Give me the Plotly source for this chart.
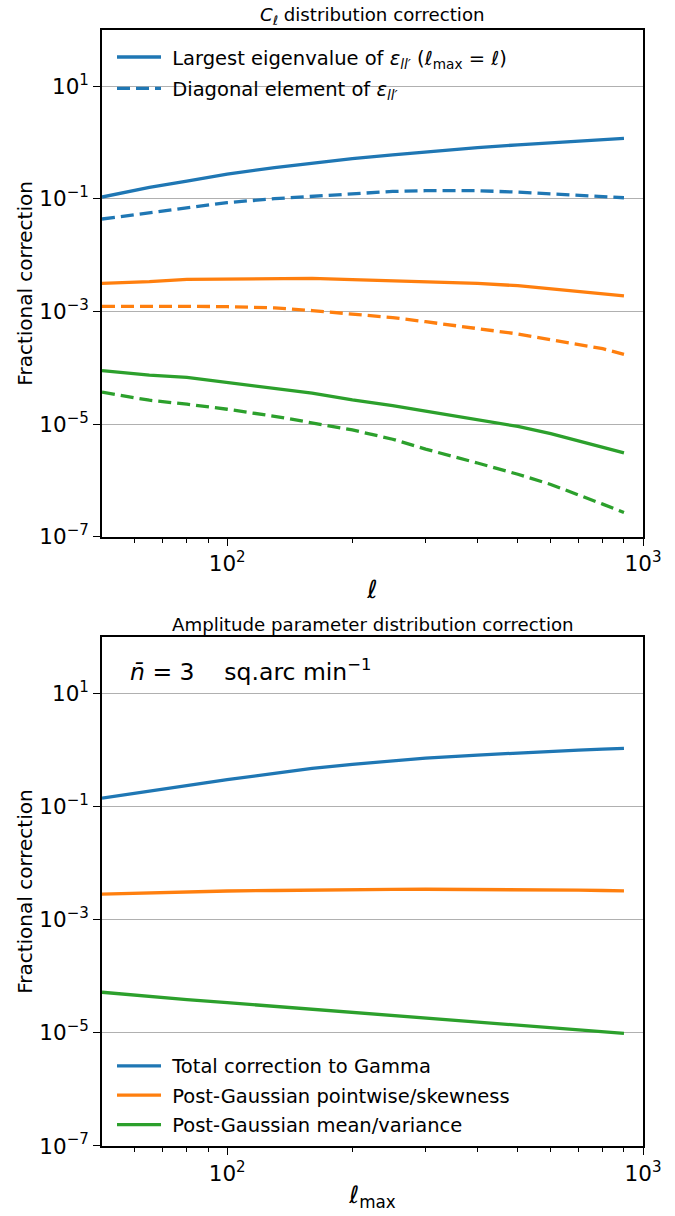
import plotly.graph_objects as go

# multipole sampling shared by every curve
ell = [50, 65, 80, 100, 130, 160, 200, 250, 300, 400, 500, 600, 700, 800, 900]

# C_ell distribution correction
cl_eig_total = [0.108, 0.16, 0.208, 0.277, 0.36, 0.437, 0.521, 0.608, 0.685, 0.813, 0.914, 0.997, 1.07, 1.13, 1.186]
cl_diag_total = [0.044, 0.057, 0.069, 0.086, 0.101, 0.112, 0.125, 0.136, 0.14, 0.14, 0.132, 0.124, 0.116, 0.111, 0.105]
cl_eig_skew = [0.00316, 0.00339, 0.00372, 0.0038, 0.00389, 0.00389, 0.0037, 0.00355, 0.00339, 0.00316, 0.00288, 0.00251, 0.00224, 0.00206, 0.0019]
cl_diag_skew = [0.00124, 0.00126, 0.00124, 0.00122, 0.00116, 0.00104, 0.00089, 0.00078, 0.00066, 0.0005, 0.0004, 0.000316, 0.000263, 0.000219, 0.000174]
cl_eig_meanvar = [8.9e-5, 7.4e-5, 6.8e-5, 5.5e-5, 4.3e-5, 3.55e-5, 2.7e-5, 2.14e-5, 1.7e-5, 1.2e-5, 9.1e-6, 6.8e-6, 5.1e-6, 3.9e-6, 3.1e-6]
cl_diag_meanvar = [3.7e-5, 2.66e-5, 2.26e-5, 1.84e-5, 1.38e-5, 1.07e-5, 7.9e-6, 5.4e-6, 3.6e-6, 2.04e-6, 1.29e-6, 8.5e-7, 5.6e-7, 3.8e-7, 2.7e-7]

# amplitude parameter distribution correction
amp_total = [0.142, 0.19, 0.239, 0.303, 0.39, 0.477, 0.565, 0.656, 0.729, 0.824, 0.90, 0.957, 1.005, 1.045, 1.079]
amp_skew = [0.00286, 0.003, 0.00316, 0.00324, 0.00331, 0.00339, 0.00343, 0.00347, 0.00348, 0.00347, 0.00343, 0.00339, 0.00335, 0.00331, 0.00327]
amp_meanvar = [5.25e-5, 4.37e-5, 3.9e-5, 3.43e-5, 2.95e-5, 2.63e-5, 2.29e-5, 2.0e-5, 1.8e-5, 1.51e-5, 1.33e-5, 1.2e-5, 1.11e-5, 1.04e-5, 9.8e-6]

# axis tick labels
y_tickvals = [1e-7, 1e-5, 1e-3, 1e-1, 1e1]
y_ticktext = ["10<sup>\u22127</sup>", "10<sup>\u22125</sup>", "10<sup>\u22123</sup>",
              "10<sup>\u22121</sup>", "10<sup>1</sup>"]
x_tickvals = [100, 1000]
x_ticktext = ["10<sup>2</sup>", "10<sup>3</sup>"]
x_minor = [60, 70, 80, 90, 200, 300, 400, 500, 600, 700, 800, 900]

BLUE, ORANGE, GREEN = "#1f77b4", "#ff7f0e", "#2ca02c"
FONT = "DejaVu Sans"
LW = 3.3
DASH = "13px,6px"
SP = "\u00a0"

fig = go.Figure()

eps = "<i>\u03b5</i><sub><i>ll\u2032</i></sub>"
top_series = [
    (cl_eig_total, BLUE, "solid", f"{SP}Largest eigenvalue of {eps} (<i>\u2113</i><sub>max</sub> = <i>\u2113</i>)", True),
    (cl_diag_total, BLUE, DASH, f"{SP}Diagonal element of {eps}", True),
    (cl_eig_skew, ORANGE, "solid", "", False),
    (cl_diag_skew, ORANGE, DASH, "", False),
    (cl_eig_meanvar, GREEN, "solid", "", False),
    (cl_diag_meanvar, GREEN, DASH, "", False),
]
for i, (vals, col, dash, name, show) in enumerate(top_series):
    fig.add_trace(go.Scatter(
        x=ell, y=vals, mode="lines", name=name, showlegend=show,
        legend="legend", legendgroup=f"top{i}",
        line=dict(color=col, width=LW, dash=dash),
        xaxis="x", yaxis="y"))

bottom_series = [
    (amp_total, BLUE, "Total correction to Gamma"),
    (amp_skew, ORANGE, "Post-Gaussian pointwise/skewness"),
    (amp_meanvar, GREEN, "Post-Gaussian mean/variance"),
]
for i, (vals, col, name) in enumerate(bottom_series):
    fig.add_trace(go.Scatter(
        x=ell, y=vals, mode="lines", name=SP + name,
        legend="legend2", legendgroup=f"bot{i}",
        line=dict(color=col, width=LW),
        xaxis="x2", yaxis="y2"))

tick_font = dict(family=FONT, size=21.5, color="black")
common_x = dict(
    type="log", range=[1.69897, 3], tickvals=x_tickvals, ticktext=x_ticktext,
    ticks="outside", ticklen=7, tickwidth=1.3, tickcolor="black",
    showline=True, mirror=True, linecolor="black", linewidth=1.6,
    showgrid=False, zeroline=False, tickfont=tick_font,
    minor=dict(tickmode="array", tickvals=x_minor, ticks="outside",
               ticklen=4, tickwidth=1, tickcolor="black", showgrid=False),
)
common_y = dict(
    type="log", range=[-7, 2], tickvals=y_tickvals, ticktext=y_ticktext,
    ticks="outside", ticklen=7, tickwidth=1.3, tickcolor="black",
    showline=True, mirror=True, linecolor="black", linewidth=1.6,
    showgrid=True, gridcolor="#b0b0b0", gridwidth=1, zeroline=False,
    tickfont=tick_font,
    title=dict(text="Fractional correction", font=dict(family=FONT, size=20, color="black"), standoff=1),
)
legend_font = dict(family=FONT, size=19.5, color="black")

fig.update_layout(
    width=675, height=1216,
    margin=dict(l=102, r=32, t=30, b=63),
    paper_bgcolor="white", plot_bgcolor="white",
    font=dict(family=FONT, color="black"),
    xaxis=dict(common_x, anchor="y",
               title=dict(text="<i>\u2113</i>", font=dict(family=FONT, size=25, color="black"), standoff=5)),
    yaxis=dict(common_y, domain=[0.5459, 1.0], anchor="x"),
    xaxis2=dict(common_x, anchor="y2",
                title=dict(text="<i>\u2113</i><sub>max</sub>", font=dict(family=FONT, size=24, color="black"), standoff=2)),
    yaxis2=dict(common_y, domain=[0.0, 0.4559], anchor="x2"),
    legend=dict(x=0.0185, y=0.993, xanchor="left", yanchor="top",
                bgcolor="rgba(0,0,0,0)", font=legend_font,
                tracegroupgap=3, itemwidth=44),
    legend2=dict(x=0.0185, y=0.089, xanchor="left", yanchor="top",
                 bgcolor="rgba(0,0,0,0)", font=legend_font,
                 tracegroupgap=1, itemwidth=44),
    annotations=[
        dict(text="<i>C</i><sub><i>\u2113</i></sub> distribution correction",
             xref="x domain", yref="y domain", x=0.5, y=1.0,
             xanchor="center", yanchor="bottom", yshift=0, showarrow=False,
             font=dict(family=FONT, size=18.2, color="black")),
        dict(text="Amplitude parameter distribution correction",
             xref="x2 domain", yref="y2 domain", x=0.5, y=1.0,
             xanchor="center", yanchor="bottom", yshift=0, showarrow=False,
             font=dict(family=FONT, size=18.2, color="black")),
        dict(text="<i>n\u0304</i> = 3\u00a0\u00a0\u00a0\u00a0sq.arc min<sup>\u22121</sup>",
             xref="x2 domain", yref="y2 domain", x=0.048, y=0.935,
             xanchor="left", yanchor="middle", showarrow=False,
             font=dict(family=FONT, size=23.5, color="black")),
    ],
)

fig.write_html("out.html")
